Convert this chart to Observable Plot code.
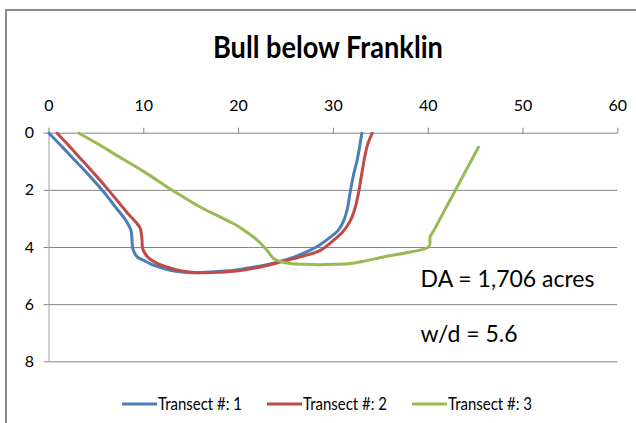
<!DOCTYPE html>
<html>
<head>
<meta charset="utf-8">
<script src="https://cdn.jsdelivr.net/npm/d3@7"></script>
<script src="https://cdn.jsdelivr.net/npm/@observablehq/plot@0.6"></script>
<style>
  html, body { margin: 0; padding: 0; background: #fff; }
  #wrap { position: relative; width: 636px; height: 423px; overflow: hidden; background: #fff; }
  #frame { position: absolute; left: 5px; top: 9px; width: 700px; height: 500px; border: 2px solid #8c8c8c; box-sizing: border-box; }
  #chart { position: absolute; left: 0; top: 0; }
  #title { position: absolute; left: 0; width: 656px; top: 28px; text-align: center; white-space: nowrap;
           font-family: Lato, sans-serif; font-weight: bold; font-size: 30px; color: #000; }
  #title span { display: inline-block; transform-origin: 50% 50%; }
  .leg { position: absolute; top: 393px; display: flex; align-items: center; white-space: nowrap;
         font-family: Lato, sans-serif; font-size: 17px; color: #000; }
  .leg span { display: inline-block; transform-origin: 0 50%; }
  .leg svg { margin-right: 1px; }
</style>
</head>
<body>
<div id="wrap">
  <div id="frame"></div>
  <div id="chart"></div>
  <div id="title"><span></span></div>
  <div id="legend"></div>
</div>
<script>
// ---- data ----
const titleText = "Bull below Franklin";
const seriesNames = ["Transect #: 1", "Transect #: 2", "Transect #: 3"];
const seriesColors = ["#4a7ebb", "#be4b48", "#98b954"];

const t1x = [0, 1, 2, 3, 4, 5, 6, 7, 8, 8.4, 8.65, 8.75, 8.85, 9.3, 10, 10.7, 11.8, 12.8, 14, 15.3, 17, 19.5, 21, 23, 25.1, 26.5, 27.5, 28.6, 29.7, 30.5, 31.1, 31.5, 31.8, 32.15, 32.5, 32.7, 33.0];
const t1y = [0, 0.34, 0.69, 1.04, 1.39, 1.76, 2.15, 2.58, 3.0, 3.22, 3.4, 3.7, 4.05, 4.33, 4.45, 4.57, 4.7, 4.8, 4.86, 4.88, 4.86, 4.8, 4.72, 4.6, 4.42, 4.25, 4.1, 3.9, 3.63, 3.4, 3.05, 2.6, 2.0, 1.42, 0.95, 0.6, 0];

const t2x = [0.86, 2, 3, 4, 5, 6.3, 7.3, 8.3, 9.3, 9.65, 9.8, 9.9, 10.4, 11.2, 12.5, 14, 15.6, 17.5, 19.5, 21, 23, 24.5, 26.5, 28.6, 30.0, 31, 31.8, 32.3, 32.7, 33.0, 33.3, 33.6, 34.1];
const t2y = [0, 0.4, 0.77, 1.13, 1.5, 2.0, 2.4, 2.8, 3.17, 3.35, 3.7, 4.05, 4.33, 4.52, 4.69, 4.82, 4.88, 4.87, 4.83, 4.76, 4.63, 4.5, 4.33, 4.1, 3.75, 3.45, 3.05, 2.6, 2.0, 1.4, 0.84, 0.4, 0];

const t3x = [3.15, 5.4, 7, 8.95, 10.5, 12.5, 14, 16, 18, 19.5, 20.5, 22, 23, 23.7, 24.5, 25.5, 27, 28.6, 30, 31.8, 33.5, 35.3, 38.1, 40.1, 40.2, 40.6, 42.7, 45.3];
const t3y = [0, 0.42, 0.75, 1.13, 1.45, 1.89, 2.2, 2.59, 2.92, 3.17, 3.38, 3.75, 4.1, 4.39, 4.5, 4.56, 4.59, 4.6, 4.59, 4.56, 4.46, 4.33, 4.16, 3.96, 3.63, 3.4, 2.1, 0.49];

const xTicks = [0, 10, 20, 30, 40, 50, 60];
const yTicks = [0, 2, 4, 6, 8];

const noteText = ["DA = 1,706 acres", "w/d = 5.6"];
const noteX = [39.2, 39.2];
const noteY = [5.13, 7.05];

// ---- build tables ----
const xs = [t1x, t2x, t3x], ys = [t1y, t2y, t3y];
const rows = [];
seriesNames.forEach((s, i) => xs[i].forEach((x, j) => rows.push({series: s, x, y: ys[i][j]})));
const notes = noteText.map((t, i) => ({text: t, x: noteX[i], y: noteY[i]}));

const grid = "#868686";
const chart = Plot.plot({
  width: 636,
  height: 423,
  marginLeft: 48.5,
  marginRight: 18.7,
  marginTop: 132.7,
  marginBottom: 61.7,
  style: {fontFamily: "Lato, sans-serif", fontSize: "16px", background: "transparent", color: "#000"},
  x: {domain: [0, 60], ticks: xTicks, axis: null},
  y: {domain: [0, 8], reverse: true, ticks: yTicks, axis: null},
  color: {domain: seriesNames, range: seriesColors},
  marks: [
    Plot.ruleY(yTicks, {stroke: grid, strokeWidth: 1}),
    Plot.ruleX([0], {stroke: "#a0a0a0", strokeWidth: 1}),
    Plot.axisX({anchor: "top", ticks: xTicks, tickSize: 6, tickPadding: 16, stroke: grid, fill: "#000", label: null, fontSize: 16}),
    Plot.axisY({anchor: "left", ticks: yTicks, tickSize: 5, tickPadding: 10, stroke: grid, fill: "#000", label: null, fontSize: 16}),
    Plot.line(rows, {x: "x", y: "y", z: "series", stroke: "series", strokeWidth: 3, curve: "catmull-rom"}),
    Plot.text(notes, {x: "x", y: "y", text: "text", textAnchor: "start", fontSize: 23, fontFamily: "Lato", fill: "#000"})
  ]
});
document.getElementById("chart").appendChild(chart);

const titleSpan = document.querySelector("#title span");
titleSpan.textContent = titleText;
const tw = titleSpan.getBoundingClientRect().width;
titleSpan.style.transform = `scaleX(${230 / tw})`;

const legLefts = [122, 267, 412];
const legend = document.getElementById("legend");
seriesNames.forEach((s, i) => {
  const d = document.createElement("div");
  d.className = "leg";
  d.style.left = legLefts[i] + "px";
  d.innerHTML = `<svg width="35" height="6"><line x1="0" y1="3" x2="35" y2="3" stroke="${seriesColors[i]}" stroke-width="3"/></svg><span>${s}</span>`;
  legend.appendChild(d);
  const sp = d.querySelector("span");
  const w = sp.getBoundingClientRect().width;
  sp.style.transform = `scaleX(${84 / w})`;
});
</script>
</body>
</html>
